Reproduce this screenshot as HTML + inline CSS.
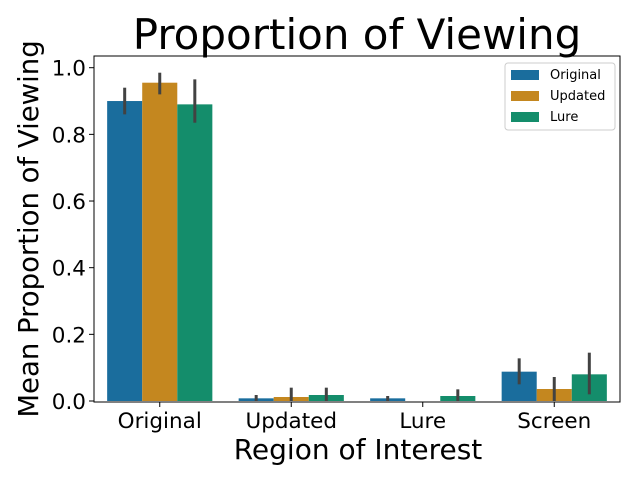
<!DOCTYPE html>
<html><head><meta charset="utf-8"><style>
body{margin:0;background:#fff}
svg text{font-family:"DejaVu Sans","Liberation Sans",sans-serif;fill:#000}
</style></head><body>
<svg width="640" height="480" xmlns="http://www.w3.org/2000/svg">
<rect width="640" height="480" fill="#fff"/>
<text x="357" y="49" font-size="42" text-anchor="middle">Proportion of Viewing</text>
<g id="plot"></g>
<text x="358" y="459" font-size="28" text-anchor="middle">Region of Interest</text>
<text transform="translate(38,229) rotate(-90)" font-size="27.5" text-anchor="middle">Mean Proportion of Viewing</text>
<g>
<rect x="505" y="63" width="110" height="67" rx="3" fill="#fff" stroke="#ccc"/>
<rect x="511" y="70" width="28" height="10" fill="#1a6d9d"/>
<text x="550" y="79" font-size="13">Original</text>
<rect x="511" y="91" width="28" height="10" fill="#c4871f"/>
<text x="550" y="100" font-size="13">Updated</text>
<rect x="511" y="112" width="28" height="10" fill="#148d6b"/>
<text x="550" y="121" font-size="13">Lure</text>
</g>
</svg>
<script>
const categories = ["Original","Updated","Lure","Screen"];
const seriesNames = ["Original","Updated","Lure"];
const seriesColors = ["#1a6d9d","#c4871f","#148d6b"];
const originalVals = [0.90,0.008,0.008,0.088];
const updatedVals = [0.955,0.012,0.0,0.036];
const lureVals = [0.89,0.018,0.015,0.080];
const originalLo = [0.86,0.0,0.0,0.05];
const originalHi = [0.94,0.018,0.015,0.128];
const updatedLo = [0.92,0.0,0.0,0.0];
const updatedHi = [0.985,0.04,0.0,0.072];
const lureLo = [0.835,0.0,0.0,0.02];
const lureHi = [0.965,0.04,0.035,0.145];
const yTicks = [0.0,0.2,0.4,0.6,0.8,1.0];
const yTickLabels = ["0.0","0.2","0.4","0.6","0.8","1.0"];

const L=94,R=620,T=56,B=402;
const y = v => 401 - v*(401-67.7);
const bw = (R-L)/categories.length;
const x = i => L + bw*(i+0.5);
const NS="http://www.w3.org/2000/svg";
const g=document.getElementById('plot');
function mk(t,a){const e=document.createElementNS(NS,t);for(const k in a)e.setAttribute(k,a[k]);g.appendChild(e);return e;}
const vals=[originalVals,updatedVals,lureVals], lo=[originalLo,updatedLo,lureLo], hi=[originalHi,updatedHi,lureHi];
const barW = bw*0.8/3;
for(let s=0;s<3;s++){
  for(let i=0;i<categories.length;i++){
    const bx = x(i) - bw*0.4 + s*barW;
    const r=mk('rect',{x:bx,y:y(vals[s][i]),width:barW,height:Math.max(0,y(0)-y(vals[s][i])),fill:seriesColors[s]});
    
    
  }
}
for(let s=0;s<3;s++){
  for(let i=0;i<categories.length;i++){
    if(hi[s][i]<=lo[s][i])continue;
    const cx = x(i) - bw*0.4 + (s+0.5)*barW;
    const l=mk('line',{x1:cx,x2:cx,y1:y(lo[s][i]),y2:y(hi[s][i]),stroke:'#424242','stroke-width':3});
    
    
  }
}
const frame=mk('rect',{x:L,y:T,width:R-L,height:B-T,fill:'none',stroke:'#000','stroke-width':1});


yTicks.forEach((v,k)=>{
  mk('line',{x1:L-5,x2:L,y1:y(v),y2:y(v),stroke:'#000'});
  const t=mk('text',{x:L-8,y:y(v)+8,'font-size':21.5,'text-anchor':'end'});
  t.textContent=yTickLabels[k];
  
  
});
categories.forEach((c,i)=>{
  mk('line',{x1:x(i),x2:x(i),y1:B,y2:B+5,stroke:'#000'});
  const t=mk('text',{x:x(i),y:B+26,'font-size':21.5,'text-anchor':'middle'});
  t.textContent=c;
  
  
});
</script>
</body></html>
